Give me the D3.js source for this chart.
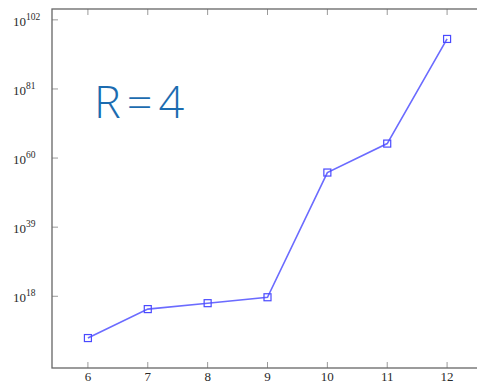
<!DOCTYPE html>
<html>
<head>
<meta charset="utf-8">
<script src="https://cdn.jsdelivr.net/npm/d3@7"></script>
<style>
  body { margin: 0; background: #fff; }
</style>
</head>
<body>
<div id="chart"></div>
<script>
// R values on the x axis
const rValues = [6, 7, 8, 9, 10, 11, 12];
// exponents (value = 10^exponent)
const exponents = [5.3, 14.1, 15.9, 17.7, 55.6, 64.4, 96.2];
const yTickExponents = [18, 39, 60, 81, 102];
const annotation = 'R=4';

const width = 477;
const height = 385;
const margin = {top: 9, right: -6, bottom: 17, left: 52};
const serif = '"Liberation Serif", "DejaVu Serif", serif';

const points = rValues.map((r, i) => ({r: r, value: Math.pow(10, exponents[i])}));

const svg = d3.select('#chart')
  .append('svg')
    .attr('width', width)
    .attr('height', height);

// pgfplots style 10% enlargement
const xScale = d3.scaleLinear()
  .domain([5.4, 12.6])
  .range([margin.left, width - margin.right]);

const yScale = d3.scaleLog()
  .domain([Math.pow(10, -3.8), Math.pow(10, 105.3)])
  .range([height - margin.bottom, margin.top]);

const x0 = margin.left, x1 = width - margin.right;
const y0 = height - margin.bottom, y1 = margin.top;

// ticks (inside the box)
const tickColor = '#9a9a9a';
svg.append('g')
  .selectAll('line')
  .data(rValues)
  .join('line')
    .attr('x1', d => xScale(d)).attr('x2', d => xScale(d))
    .attr('y1', y0).attr('y2', y0 - 6)
    .attr('stroke', tickColor);

svg.append('g')
  .selectAll('line')
  .data(rValues)
  .join('line')
    .attr('x1', d => xScale(d)).attr('x2', d => xScale(d))
    .attr('y1', y1).attr('y2', y1 + 6)
    .attr('stroke', tickColor);

svg.append('g')
  .selectAll('line')
  .data(yTickExponents)
  .join('line')
    .attr('x1', x0).attr('x2', x0 + 6)
    .attr('y1', d => yScale(Math.pow(10, d))).attr('y2', d => yScale(Math.pow(10, d)))
    .attr('stroke', tickColor);

svg.append('g')
  .selectAll('line')
  .data(yTickExponents)
  .join('line')
    .attr('x1', x1).attr('x2', x1 - 6)
    .attr('y1', d => yScale(Math.pow(10, d))).attr('y2', d => yScale(Math.pow(10, d)))
    .attr('stroke', tickColor);

// frame
svg.append('rect')
  .attr('x', x0)
  .attr('y', y1)
  .attr('width', x1 - x0)
  .attr('height', y0 - y1)
  .attr('fill', 'none')
  .attr('stroke', '#666')
  .attr('stroke-width', 1.3);

// x tick labels
svg.append('g')
  .selectAll('text')
  .data(rValues)
  .join('text')
    .attr('x', d => xScale(d))
    .attr('y', 381)
    .attr('text-anchor', 'middle')
    .attr('font-family', serif)
    .attr('font-size', 13)
    .attr('fill', '#2a2a2a')
    .text(d => d);

// y tick labels 10^n
const yLabels = svg.append('g')
  .selectAll('text')
  .data(yTickExponents)
  .join('text')
    .attr('x', 13)
    .attr('y', d => yScale(Math.pow(10, d)) + 6)
    .attr('font-family', serif)
    .attr('font-size', 13)
    .attr('fill', '#2a2a2a');

yLabels.append('tspan').text('10');
yLabels.append('tspan')
  .attr('dy', -6)
  .attr('font-size', 9.5)
  .text(d => d);

// line + markers
const line = d3.line()
  .x(d => xScale(d.r))
  .y(d => yScale(d.value));

svg.append('path')
  .datum(points)
  .attr('d', line)
  .attr('fill', 'none')
  .attr('stroke', '#6b6bff')
  .attr('stroke-width', 1.6);

svg.append('g')
  .selectAll('rect')
  .data(points)
  .join('rect')
    .attr('x', d => xScale(d.r) - 3.5)
    .attr('y', d => yScale(d.value) - 3.5)
    .attr('width', 7)
    .attr('height', 7)
    .attr('fill', 'none')
    .attr('stroke', '#4a4aff')
    .attr('stroke-width', 1.2);

svg.append('text')
  .attr('x', 94)
  .attr('y', 118)
  .attr('font-family', '"Open Sans", Lato, sans-serif')
  .attr('font-weight', 300)
  .attr('font-size', 45)
  .attr('letter-spacing', 6)
  .attr('fill', '#1c6cb0')
  .text(annotation);
</script>
</body>
</html>
